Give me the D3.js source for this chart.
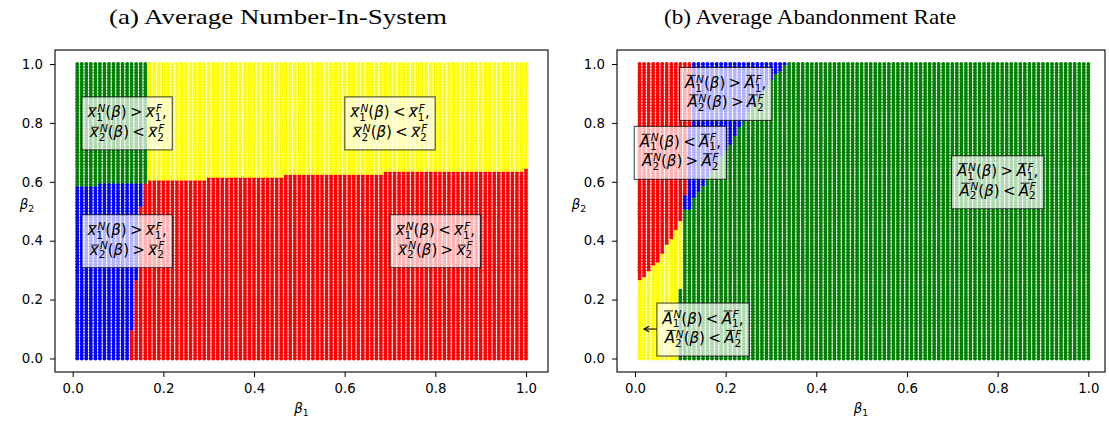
<!DOCTYPE html>
<html>
<head>
<meta charset="utf-8">
<script src="https://cdn.jsdelivr.net/npm/d3@7"></script>
<style>
  body { margin: 0; background: #fff; }
  text { font-family: "DejaVu Sans", sans-serif; fill: #000; }
  text.title { font-family: "Liberation Serif", "DejaVu Serif", serif; }
</style>
</head>
<body>
<svg id="chart" width="1109" height="423"></svg>
<script>
// ---------------- data ----------------
// grid of parameter values
const beta1 = d3.range(1, 101).map(i => i / 100);   // 0.01 .. 1.00
const beta2 = d3.range(0, 101).map(i => i / 100);   // 0.00 .. 1.00
const ticks = [0, 0.2, 0.4, 0.6, 0.8, 1.0];

// (a) last beta2 of the lower region (blue / red), per column range [from b1, to b1, b2]
const aLowerTop = [
  [0.01, 0.05, 0.58],
  [0.06, 0.16, 0.59],
  [0.17, 0.29, 0.60],
  [0.30, 0.46, 0.61],
  [0.47, 0.68, 0.62],
  [0.69, 0.99, 0.63],
  [1.00, 1.00, 0.64]
];
// (a) last blue beta1 in the lower region, per beta2 band [from b2, to b2, b1]
const aBlueEdge = [
  [0.00, 0.09, 0.12],
  [0.10, 0.26, 0.13],
  [0.27, 0.51, 0.14],
  [0.52, 0.64, 0.15]
];
// (a) last green beta1 in the upper region
const aGreenEdge = 0.16;

// (b) last yellow beta2 for columns 0.01 .. 0.10
const bYellowTop = [0.26, 0.27, 0.29, 0.31, 0.32, 0.35, 0.38, 0.40, 0.43, 0.46];
// (b) last green beta2 for columns 0.10 .. 0.33 (all green from 0.34 on)
const bGreenTop = [0.23, 0.50, 0.50, 0.54, 0.56, 0.58, 0.61, 0.63, 0.65, 0.68, 0.70, 0.72,
                   0.75, 0.78, 0.80, 0.83, 0.85, 0.88, 0.90, 0.92, 0.94, 0.96, 0.97, 0.99];
// (b) last red beta1 per beta2 band [from b2, to b2, b1]
const bRedEdge = [
  [0.00, 0.55, 0.10],
  [0.56, 0.78, 0.11],
  [0.79, 1.00, 0.12]
];

// annotation boxes: [b1, b2, sign line 1, sign line 2]
const aNotes = [
  [0.12, 0.80, '>', '<'],
  [0.12, 0.40, '>', '>'],
  [0.70, 0.80, '<', '<'],
  [0.80, 0.40, '<', '>']
];
const bNotes = [
  [0.20, 0.90, '>', '>'],
  [0.10, 0.70, '<', '>'],
  [0.80, 0.60, '>', '<'],
  [0.15, 0.10, '<', '<']
];
const bArrowTip = [0.02, 0.10];

const colors = { green: '#008000', blue: '#0000ff', red: '#ff0000', yellow: '#ffff00' };

// ---------------- classification ----------------
const h = v => Math.round(v * 100);   // work in hundredths
function inRun(runs, v) {
  const r = runs.find(r => h(v) >= h(r[0]) && h(v) <= h(r[1]));
  return r ? r[2] : null;
}
function classA(x, y) {
  if (h(y) <= h(inRun(aLowerTop, x))) {
    return h(x) <= h(inRun(aBlueEdge, y)) ? 'blue' : 'red';
  }
  return h(x) <= h(aGreenEdge) ? 'green' : 'yellow';
}
function classB(x, y) {
  const c = h(x);
  let gt = -1;
  if (c >= 34) gt = 1;
  else if (c >= 10) gt = bGreenTop[c - 10];
  if (h(y) <= h(gt)) return 'green';
  if (c <= 10 && h(y) <= h(bYellowTop[c - 1])) return 'yellow';
  return c <= h(inRun(bRedEdge, y)) ? 'red' : 'blue';
}

// ---------------- layout ----------------
const svg = d3.select('#chart');
const fs = 13.3;   // tick / axis label size
const ns = 15;     // annotation text size

const panels = [
  {
    frame: [55, 548, 50, 372], xr: [72.7, 526], yr: [358.5, 64],
    classify: classA, notes: aNotes, sym: 'x',
    title: '(a) Average Number-In-System', titleX: 278, titleW: 338,
    ylabX: 27
  },
  {
    frame: [617, 1105, 50, 372], xr: [635, 1088.3], yr: [358.5, 64],
    classify: classB, notes: bNotes, sym: 'A', arrow: bArrowTip,
    title: '(b) Average Abandonment Rate', titleX: 810, titleW: 292,
    ylabX: 579
  }
];

// small mathtext-like renderer: tokens placed along a baseline
function mathLine(g, tokens, size) {
  let x = 0;
  tokens.forEach(tk => {
    if (tk.sp) { x += tk.sp * size; return; }
    if (tk.sup !== undefined) {
      const ss = size * 0.7;
      const a = g.append('text').attr('x', x + (tk.shift || 0) * size).attr('y', -size * 0.36)
        .attr('font-size', ss).attr('font-style', 'italic').text(tk.sup);
      const b = g.append('text').attr('x', x).attr('y', size * 0.24)
        .attr('font-size', ss).text(tk.sub);
      x += Math.max(a.node().getComputedTextLength() + (tk.shift || 0) * size,
                    b.node().getComputedTextLength());
      return;
    }
    const t = g.append('text').attr('x', x).attr('y', 0).attr('font-size', size)
      .attr('font-style', tk.it ? 'italic' : null).text(tk.s);
    const w = t.node().getComputedTextLength();
    if (tk.bar) {
      const by = tk.s === 'A' ? -size * 0.84 : -size * 0.64;
      const off = tk.s === 'A' ? 0.12 : 0.1;
      g.append('line').attr('x1', x + off * size).attr('x2', x + w + off * size * 0.3)
        .attr('y1', by).attr('y2', by).attr('stroke', '#000').attr('stroke-width', 0.9);
    }
    x += w;
  });
  return x;
}

function noteTokens(sym, idx, sign, last) {
  const sh = sym === 'A' ? 0.05 : 0.08;
  const t = [
    { s: sym, it: true, bar: true }, { sup: 'N', sub: String(idx), shift: sh },
    { s: '(' }, { s: 'β', it: true }, { s: ')' },
    { sp: 0.22 }, { s: sign }, { sp: 0.22 },
    { s: sym, it: true, bar: true }, { sup: 'F', sub: String(idx), shift: sh }
  ];
  if (!last) t.push({ s: ',' });
  return t;
}

panels.forEach(p => {
  const [fx0, fx1, fy0, fy1] = p.frame;
  const x = d3.scaleLinear().domain([0, 1]).range(p.xr);
  const y = d3.scaleLinear().domain([0, 1]).range(p.yr);

  // points
  const pts = [];
  beta1.forEach(b1 => beta2.forEach(b2 => pts.push({ b1, b2, c: p.classify(b1, b2) })));
  const order = ['blue', 'red', 'yellow', 'green'];
  svg.append('g').selectAll('circle')
    .data(pts.sort((a, b) => order.indexOf(a.c) - order.indexOf(b.c)))
    .join('circle')
      .attr('cx', d => x(d.b1))
      .attr('cy', d => y(d.b2))
      .attr('r', 2)
      .attr('fill', d => colors[d.c]);

  // axes
  const gx = svg.append('g').attr('transform', `translate(0,${fy1})`)
    .call(d3.axisBottom(x).tickValues(ticks).tickFormat(d3.format('.1f')).tickSize(5).tickPadding(7));
  const gy = svg.append('g').attr('transform', `translate(${fx0},0)`)
    .call(d3.axisLeft(y).tickValues(ticks).tickFormat(d3.format('.1f')).tickSize(5).tickPadding(7));
  [gx, gy].forEach(g => {
    g.select('.domain').remove();
    g.selectAll('text').attr('font-size', fs).attr('fill', '#000');
    g.selectAll('line').attr('stroke', '#000').attr('stroke-width', 1);
  });
  svg.append('rect').attr('x', fx0).attr('y', fy0).attr('width', fx1 - fx0).attr('height', fy1 - fy0)
    .attr('fill', 'none').attr('stroke', '#000').attr('stroke-width', 1.1);

  // axis labels
  const lx = svg.append('g');
  const wx = mathLine(lx, [{ s: 'β', it: true }, { sup: '', sub: '1' }], fs);
  lx.attr('transform', `translate(${(fx0 + fx1) / 2 - wx / 2},${413})`);
  const ly = svg.append('g');
  const wy = mathLine(ly, [{ s: 'β', it: true }, { sup: '', sub: '2' }], fs);
  ly.attr('transform', `translate(${p.ylabX - wy / 2},${209})`);

  // title
  svg.append('text').attr('class', 'title')
    .attr('x', p.titleX).attr('y', 24).attr('text-anchor', 'middle')
    .attr('font-size', 22)
    .attr('textLength', p.titleW).attr('lengthAdjust', 'spacingAndGlyphs')
    .text(p.title);

  // annotation boxes
  p.notes.forEach(([nx, ny, s1, s2]) => {
    const g = svg.append('g');
    const bg = g.append('rect');
    const l1 = g.append('g');
    const w1 = mathLine(l1, noteTokens(p.sym, 1, s1, false), ns);
    const l2 = g.append('g');
    const w2 = mathLine(l2, noteTokens(p.sym, 2, s2, true), ns);
    l1.attr('transform', `translate(${-w1 / 2},-5.5)`);
    l2.attr('transform', `translate(${-w2 / 2},14)`);
    const bw = Math.max(w1, w2) + 11;
    const bh = 53;
    bg.attr('x', -bw / 2).attr('y', -bh / 2 + 0.5).attr('width', bw).attr('height', bh)
      .attr('fill', '#fff').attr('fill-opacity', 0.7)
      .attr('stroke', '#000').attr('stroke-opacity', 0.7).attr('stroke-width', 1.1);
    g.attr('transform', `translate(${x(nx)},${y(ny)})`);

    if (p.arrow && s1 === '<' && s2 === '<') {
      const tx = x(p.arrow[0]), ty = y(p.arrow[1]);
      const sx = x(nx) - bw / 2;
      svg.append('line').attr('x1', sx).attr('x2', tx).attr('y1', ty).attr('y2', ty)
        .attr('stroke', '#000').attr('stroke-width', 1.1);
      svg.append('path').attr('d', `M${tx + 5},${ty - 2.8}L${tx},${ty}L${tx + 5},${ty + 2.8}`)
        .attr('fill', 'none').attr('stroke', '#000').attr('stroke-width', 1.1);
    }
  });
});
</script>
</body>
</html>
